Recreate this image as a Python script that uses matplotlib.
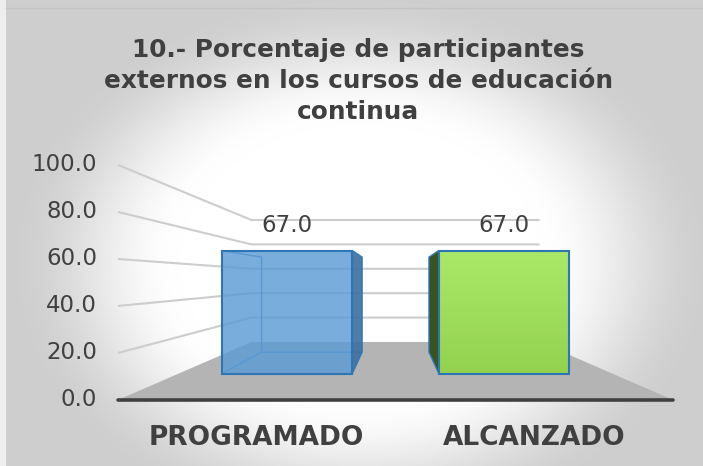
import numpy as np
import matplotlib
matplotlib.use("Agg")
import matplotlib.pyplot as plt
from matplotlib.patches import Polygon

# ---- data ----
categories = ["PROGRAMADO", "ALCANZADO"]
values = [67.0, 67.0]
y_ticks = [0, 20, 40, 60, 80, 100]
title = "10.- Porcentaje de participantes\nexternos en los cursos de educación\ncontinua"

# ---- canvas ----
W, H = 703, 466
fig = plt.figure(figsize=(W / 100, H / 100), dpi=100)
ax = fig.add_axes([0, 0, 1, 1])
ax.set_xlim(0, W)
ax.set_ylim(H, 0)
ax.axis("off")

# ---- simple perspective camera for the 3-D column look ----
CX = 395.5          # vanishing x
HORIZON = 279.4     # horizon line (pixels)
EYE = 51.3          # eye height in value units
K_FRONT, K_BACK = 2.35, 1.22   # pixels per unit at front / back wall
HALF_W = 118.1      # half floor width in value units
BAR_FRAC = 0.60     # bar width as fraction of a category slot
BAR_T = (0.30, 0.71)  # bar depth span (0 = front, 1 = back wall)


def scale(t):
    z = (1 - t) / K_FRONT + t / K_BACK
    return 1.0 / z


def proj(x, v, t):
    k = scale(t)
    return (CX + k * x, HORIZON + k * (EYE - v))


# ---- background: soft radial gradient ----
yy, xx = np.mgrid[0:H, 0:W]
d = np.sqrt(((xx - 360) / 345.0) ** 2 + ((yy - 262) / 265.0) ** 2)
s = np.clip((d - 0.52) / 0.50, 0, 1)
s = s * s * (3 - 2 * s)
g = 1.0 - 0.19 * s
bg = np.dstack([g, g, g])
ax.imshow(bg, extent=[0, W, H, 0], zorder=0, interpolation="bilinear")
ax.add_patch(plt.Rectangle((0, 0), 6, H, color="#eeeeee", zorder=0.5, lw=0))
ax.plot([6, W], [7.5, 7.5], color="#c4c4c4", lw=1.0, zorder=0.6)

# ---- floor ----
floor = [proj(-HALF_W, 0, 0), proj(HALF_W, 0, 0), proj(HALF_W, 0, 1), proj(-HALF_W, 0, 1)]
ax.add_patch(Polygon(floor, closed=True, fc="#b4b4b4", ec="none", zorder=1))

# ---- gridlines on side wall and back wall ----
for v in y_ticks[1:]:
    pts = [proj(-HALF_W, v, 0), proj(-HALF_W, v, 1), proj(HALF_W, v, 1)]
    xs, ys = zip(*pts)
    ax.plot(xs, ys, color="#cdcdcd", lw=1.5, zorder=2, solid_capstyle="butt")

label_font = dict(fontsize=16.5, color="#404040", family="DejaVu Sans",
                  fontweight="normal", zorder=6)

# ---- tick labels ----
for v in y_ticks:
    x0, y0 = proj(-HALF_W, v, 0)
    ax.text(x0 - 21, y0, f"{v:.1f}", ha="right", va="center", **label_font)

slot = 2 * HALF_W / len(categories)
edge = "#2e75b6"
t0, t1 = BAR_T


def gradient_fill(poly, top, bottom, z):
    (xmin, ymin), (xmax, ymax) = np.min(poly, axis=0), np.max(poly, axis=0)
    n = 64
    c0, c1 = np.array(matplotlib.colors.to_rgb(top)), np.array(matplotlib.colors.to_rgb(bottom))
    w = np.linspace(0, 1, n)[:, None]
    grad = c0[None, :] * (1 - w) + c1[None, :] * w
    img = ax.imshow(grad[:, None, :], extent=[xmin, xmax, ymax, ymin],
                    aspect="auto", zorder=z, interpolation="bilinear")
    clip = Polygon(poly, closed=True, transform=ax.transData)
    img.set_clip_path(clip)


for i, (cat, val) in enumerate(zip(categories, values)):
    xc = -HALF_W + (i + 0.5) * slot
    xl, xr = xc - BAR_FRAC * slot / 2, xc + BAR_FRAC * slot / 2

    front = [proj(xl, 0, t0), proj(xr, 0, t0), proj(xr, val, t0), proj(xl, val, t0)]
    if i == 0:
        # translucent blue column: hidden back edges show through
        back_pts = [proj(xl, val, t0), proj(xl, val, t1), proj(xl, 0, t1),
                    proj(xr, 0, t1)]
        ax.plot(*zip(*back_pts), color="#4a8bd0", lw=1.0, zorder=3)
        bl = [proj(xl, 0, t0), proj(xl, 0, t1)]
        ax.plot(*zip(*bl), color="#4a8bd0", lw=1.0, zorder=3)
        side = [proj(xr, 0, t0), proj(xr, 0, t1), proj(xr, val, t1), proj(xr, val, t0)]
        ax.add_patch(Polygon(side, closed=True, fc="#3d6f9f", ec=edge, lw=1.2,
                             alpha=0.9, zorder=4))
        ax.add_patch(Polygon(front, closed=True, fc="#5b9bd5", ec="none",
                             alpha=0.82, zorder=4))
        ax.add_patch(Polygon(front, closed=True, fc="none", ec=edge, lw=1.5, zorder=4.5))
    else:
        side = [proj(xl, 0, t0), proj(xl, 0, t1), proj(xl, val, t1), proj(xl, val, t0)]
        ax.add_patch(Polygon(side, closed=True, fc="#3a5322", ec=edge, lw=1.0, zorder=4))
        gradient_fill(np.array(front), "#aae868", "#93d24f", 4.2)
        ax.add_patch(Polygon(front, closed=True, fc="none", ec=edge, lw=1.5, zorder=4.5))

    # value label
    lx, ly = proj(xc, val, t0)
    ax.text(lx, ly - 25.5, f"{val:.1f}", ha="center", va="center", **label_font)

    # category label
    cx_, cy_ = proj(xc, 0, 0)
    ax.text(cx_, cy_ + 38, cat, ha="center", va="center", fontsize=19,
            fontweight="bold", color="#404040", family="DejaVu Sans", zorder=6)

# ---- front edge of floor ----
fl, fr = proj(-HALF_W, 0, 0), proj(HALF_W, 0, 0)
ax.plot([fl[0], fr[0]], [fl[1], fr[1]], color="#404040", lw=2.6,
        solid_capstyle="round", zorder=5)

# ---- title ----
ax.text(358, 81, title, ha="center", va="center", fontsize=17.8, fontweight="bold",
        color="#404040", family="DejaVu Sans", linespacing=1.38, zorder=6)

fig.savefig("out.png", dpi=100)
